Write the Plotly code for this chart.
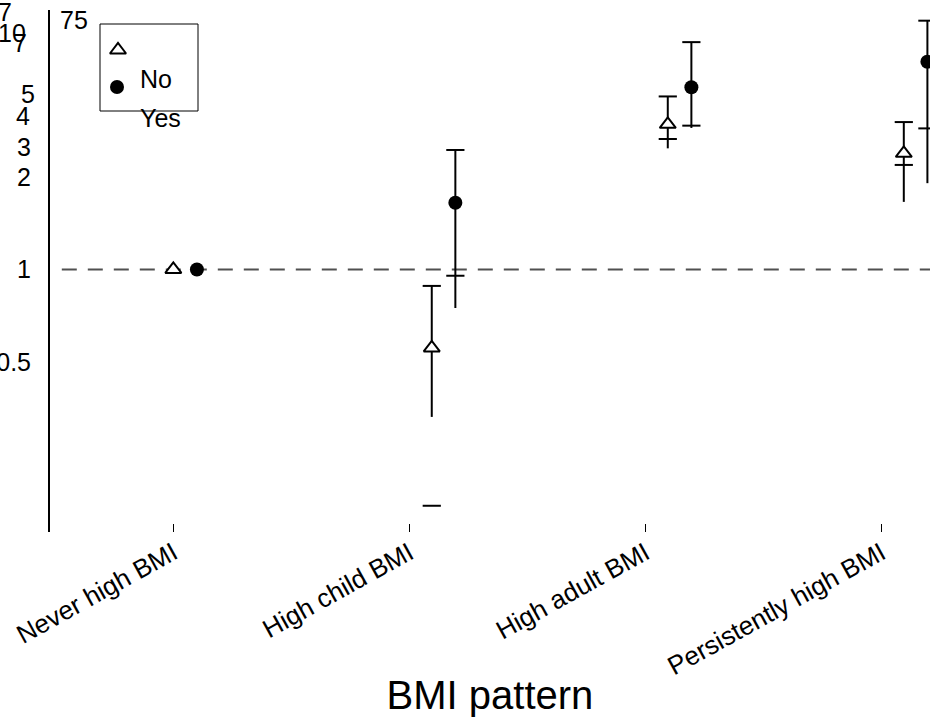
import plotly.graph_objects as go

# Odds ratios (log scale) by BMI pattern, split by group
categories = ["Never high BMI", "High child BMI", "High adult BMI", "Persistently high BMI"]

or_no = [1.0, 0.555, 2.97, 2.39]
ci_hi_no = [None, 0.884, 3.66, 3.02]
ci_lo_no = [None, 0.170, 2.66, 2.19]
whisker_end_no = [None, 0.331, 2.48, 1.66]

or_yes = [1.0, 1.65, 3.92, 4.75]
ci_hi_yes = [None, 2.45, 5.50, 6.46]
ci_lo_yes = [None, 0.954, 2.94, 2.88]
whisker_end_yes = [None, 0.749, 2.89, 1.91]

legend_labels = ["No", "Yes"]
y_tick_vals = [0.5, 1, 2]
y_tick_text = ["0.5", "1", "2"]

FONT = "Liberation Sans, Arial, sans-serif"
W, H = 930, 717
ML, MR, MT, MB = 50, 0, 10, 185
PW, PH = W - ML - MR, H - MT - MB

# horizontal dodge of the two groups within each category
group_shift = [0.0, 0.095, 0.095, 0.095]
yes_gap = 0.1

x_no = [i + s for i, s in enumerate(group_shift)]
x_yes = [x + yes_gap for x in x_no]

TRI = dict(symbol="triangle-up", size=14, color="white", line=dict(color="black", width=2))
DOT = dict(symbol="circle", size=14, color="black", line=dict(color="black", width=0))


def whisker_xy(xs, hi, end):
    xx, yy = [], []
    for x, h, e in zip(xs, hi, end):
        if h is None:
            continue
        xx += [x, x, None]
        yy += [e, h, None]
    return xx, yy


def cap_xy(xs, vals):
    pts = [(x, v) for x, v in zip(xs, vals) if v is not None]
    return [p[0] for p in pts], [p[1] for p in pts]


fig = go.Figure()

x_lo, x_hi = -0.5225, 3.206

# reference line at OR = 1
fig.add_trace(go.Scatter(
    x=[x_lo + 0.05, x_hi], y=[1, 1], mode="lines",
    line=dict(color="#505050", width=2, dash="15px,11px"),
    hoverinfo="skip"))

for xs, hi, lo, end in [(x_no, ci_hi_no, ci_lo_no, whisker_end_no),
                        (x_yes, ci_hi_yes, ci_lo_yes, whisker_end_yes)]:
    wx, wy = whisker_xy(xs, hi, end)
    fig.add_trace(go.Scatter(x=wx, y=wy, mode="lines",
                             line=dict(color="black", width=2), hoverinfo="skip"))
    cx, cy = cap_xy(xs + xs, hi + lo)
    fig.add_trace(go.Scatter(x=cx, y=cy, mode="markers",
                             marker=dict(symbol="line-ew", size=13,
                                         line=dict(color="black", width=2)),
                             hoverinfo="skip"))

fig.add_trace(go.Scatter(x=x_no, y=or_no, mode="markers", name=legend_labels[0], marker=TRI))
fig.add_trace(go.Scatter(x=x_yes, y=or_yes, mode="markers", name=legend_labels[1], marker=DOT))


def px_x(px):
    return (px - ML) / PW


def px_y(py):
    return (H - MB - py) / PH


# legend key drawn on an overlay axis measured in pixels
fig.add_trace(go.Scatter(x=[118], y=[50], xaxis="x2", yaxis="y2", mode="markers",
                         marker=TRI, hoverinfo="skip"))
fig.add_trace(go.Scatter(x=[117], y=[87], xaxis="x2", yaxis="y2", mode="markers",
                         marker=DOT, hoverinfo="skip"))

shapes = [dict(type="rect", xref="paper", yref="paper",
               x0=px_x(100), x1=px_x(198), y0=px_y(111), y1=px_y(24),
               line=dict(color="black", width=1))]

annotations = [
    dict(text=legend_labels[0], x=px_x(138), y=px_y(79)),
    dict(text=legend_labels[1], x=px_x(138), y=px_y(118)),
]
for a in annotations:
    a.update(xref="paper", yref="paper", xanchor="left", yanchor="middle",
             showarrow=False, font=dict(family=FONT, size=25, color="black"))

# extra scale labels along the left edge
stray = [("7", 14, 12), ("10", 28, 33), ("7", 29, 43), ("5", 37, 94),
         ("4", 32, 116), ("3", 33, 147)]
for t, xr, yc in stray:
    annotations.append(dict(text=t, x=px_x(xr), y=px_y(yc), xref="paper", yref="paper",
                            xanchor="right", yanchor="middle", showarrow=False,
                            font=dict(family=FONT, size=25, color="black")))
annotations.append(dict(text="75", x=px_x(58), y=px_y(20), xref="paper", yref="paper",
                        xanchor="left", yanchor="middle", showarrow=False,
                        font=dict(family=FONT, size=25, color="black")))

fig.update_layout(
    width=W, height=H,
    margin=dict(l=ML, r=MR, t=MT, b=MB),
    paper_bgcolor="white", plot_bgcolor="white",
    showlegend=False,
    font=dict(family=FONT, color="black"),
    xaxis=dict(range=[x_lo, x_hi], tickvals=list(range(len(categories))),
               ticktext=categories, ticks="inside", ticklen=8, tickwidth=1,
               tickcolor="black", showline=False, showgrid=False, zeroline=False,
               automargin=False, tickangle=-29,
               tickfont=dict(family=FONT, size=26, color="black"),
               title=dict(text="BMI pattern", standoff=0,
                          font=dict(family=FONT, size=40, color="black"))),
    yaxis=dict(type="log", range=[-0.855, 0.845], tickvals=y_tick_vals,
               ticktext=y_tick_text, ticks="", showline=True, linecolor="black",
               linewidth=2, showgrid=False, zeroline=False, ticklabelstandoff=12,
               automargin=False, tickfont=dict(family=FONT, size=25, color="black")),
    xaxis2=dict(domain=[0, 1], range=[ML, W - MR], overlaying="x", visible=False,
                anchor="y2"),
    yaxis2=dict(domain=[0, 1], range=[H - MB, MT], overlaying="y", visible=False,
                anchor="x2"),
    shapes=shapes,
    annotations=annotations,
)

fig.write_html("out.html")
